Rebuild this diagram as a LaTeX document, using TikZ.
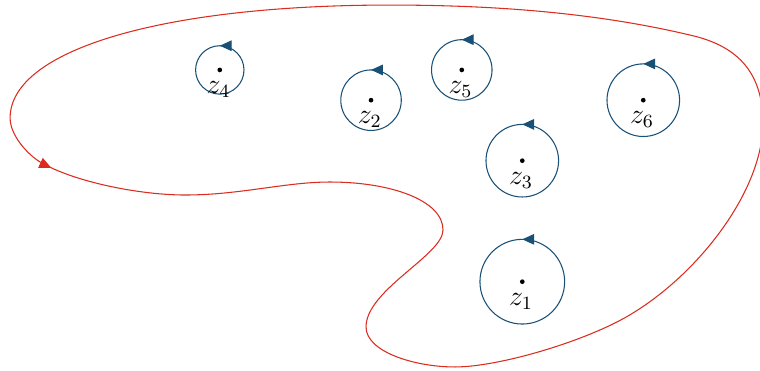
\documentclass[tikz,border=0pt]{standalone}
\usetikzlibrary{arrows.meta,decorations.markings}
\definecolor{loopblue}{RGB}{24,80,118}
\definecolor{contourred}{RGB}{218,45,32}
\tikzset{
  pole/.style={circle, fill=black, inner sep=0pt, minimum size=2.2pt},
  polelabel/.style={anchor=base, inner sep=0pt, scale=1.1,
    font=\fontsize{12}{14}\selectfont},
  smallloop/.style={draw=loopblue, line width=0.5pt, postaction={decorate},
    decoration={markings, mark=at position 0.25 with
      {\arrow[loopblue]{Triangle[length=5.6pt,width=5pt]}}}},
  contour/.style={draw=contourred, line width=0.5pt, postaction={decorate},
    decoration={markings, mark=at position 1.12cm with
      {\arrow[contourred]{Triangle[length=5.6pt,width=5pt]}}}}
}
\begin{document}
\begin{tikzpicture}
  \clip[use as bounding box] (-8.633,-1.460) rectangle (3.929,4.656);

  % poles
  \coordinate (z1) at (0,0);
  \coordinate (z3) at (0,2);
  \coordinate (z5) at (-1,3.5);
  \coordinate (z2) at (-2.5,3);
  \coordinate (z4) at (-5,3.5);
  \coordinate (z6) at (2,3);

  % small positively oriented circles around the poles
  \draw[smallloop] (z1) circle[radius=0.7];
  \draw[smallloop] (z3) circle[radius=0.6];
  \draw[smallloop] (z6) circle[radius=0.6];
  \draw[smallloop] (z2) circle[radius=0.5];
  \draw[smallloop] (z5) circle[radius=0.5];
  \draw[smallloop] (z4) circle[radius=0.4];

  \foreach \k in {1,...,6} {
    \node[pole] (p\k) at (z\k) {};
    \node[polelabel] (l\k) at ([shift={(-0.02,-0.39)}]z\k) {$z_{\k}$};
  }

  % large contour enclosing the poles (drawn in a y-down grid)
  \begin{scope}[x=0.0165289cm, y=-0.0165289cm, shift={(-522.3,-281.7)}]
    \draw[contour] (10,118)
      .. controls (10,135) and (27,154) .. (40,162)
      .. controls (74,182) and (140,195) .. (185,195)
      .. controls (240,195) and (285,182) .. (330,182)
      .. controls (390,182) and (443,200) .. (443,230)
      .. controls (443,255) and (366,290) .. (366,327)
      .. controls (366,352) and (415,367) .. (455,367)
      .. controls (500,367) and (590,340) .. (633,313)
      .. controls (700,272) and (763,190) .. (763,123)
      .. controls (763,70) and (735,45) .. (690,35)
      .. controls (593,12) and (490,5) .. (390,5)
      .. controls (162,5) and (10,50) .. cycle;
  \end{scope}
\end{tikzpicture}
\end{document}
